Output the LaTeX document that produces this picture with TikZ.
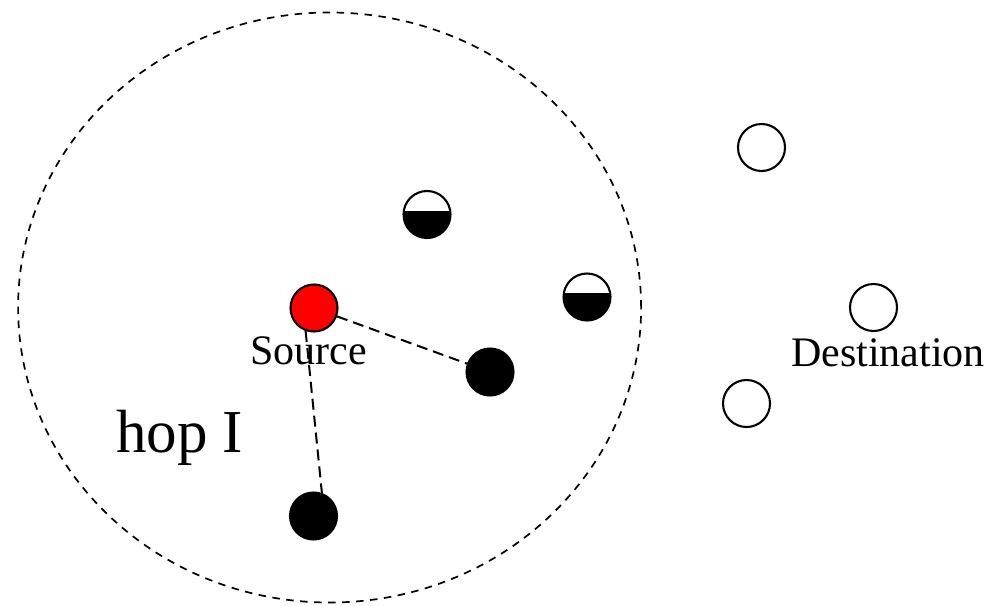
\documentclass[tikz,border=0pt]{standalone}
\usepackage{fontspec}
\setmainfont{Liberation Serif}
\begin{document}
\begin{tikzpicture}[x=1pt,y=-1pt,
  nd/.style={circle,draw=black,line width=2.1pt,minimum size=47pt,inner sep=0pt},
  srcnode/.style={nd,fill=red},
  fullnode/.style={nd,fill=black},
  emptynode/.style={nd,fill=white},
  halfnode/.style={nd,fill=white,path picture={
      \fill[black] ([yshift=4pt]path picture bounding box.west) rectangle (path picture bounding box.south east);}},
  link/.style={line width=2pt,dash pattern=on 11pt off 6pt},
  lbl/.style={font=\fontsize{42}{50}\selectfont,inner sep=0pt,anchor=base west}]
\useasboundingbox (0,0) rectangle (992,605);

% one-hop range of the source
\draw[line width=1.7pt,dash pattern=on 7.5pt off 6.5pt] (329.6,307.5) ellipse [x radius=311.5pt,y radius=295pt];

% nodes
\node[srcnode]   (src) at (314,308) {};
\node[halfnode]  (h1)  at (427,214.5) {};
\node[halfnode]  (h2)  at (587,297) {};
\node[fullnode]  (b1)  at (490,372) {};
\node[fullnode]  (b2)  at (313.5,516) {};
\node[emptynode] (w1)  at (761.5,147.5) {};
\node[emptynode] (dst) at (873.5,307.5) {};
\node[emptynode] (w2)  at (746.5,403.5) {};

% links from the source
\draw[link] (src.-20) -- (b1.160);
\draw[link] (src.-110) -- (b2.70);

% labels
\node[lbl] (srclbl) at (250,364) {Source};
\node[lbl] (dstlbl) at (791,366) {Destination};
\node[lbl,font=\fontsize{61}{70}\selectfont] (hop) at (116,452) {hop I};
\end{tikzpicture}
\end{document}
